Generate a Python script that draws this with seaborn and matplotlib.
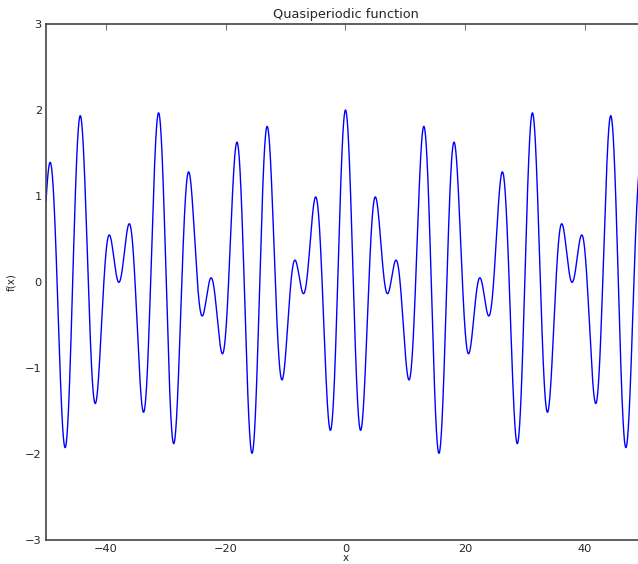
import numpy as np
import pandas as pd
import matplotlib
matplotlib.use("Agg")
import matplotlib.pyplot as plt
import seaborn as sns

# f(x) = sum of cosines with incommensurate frequencies
frequencies = [1.0, np.sqrt(2)]
amplitudes = [1.0, 1.0]
x_range = [-50, 50]

x = np.linspace(x_range[0], x_range[1], 4000)
y = sum(a * np.cos(w * x) for a, w in zip(amplitudes, frequencies))
df = pd.DataFrame({"x": x, "f(x)": y})

sns.set_style("white")
plt.rcParams["font.family"] = ["DejaVu Sans"]

fig = plt.figure(figsize=(6.38, 5.64), dpi=100)
ax = fig.add_axes([46 / 638, 24 / 564, 599 / 638, 516 / 564])

sns.lineplot(data=df, x="x", y="f(x)", ax=ax, color="blue", linewidth=1.0)

ax.set_xlim(-50, 50)
ax.set_ylim(-3, 3)
ax.set_xticks([-40, -20, 0, 20, 40])
ax.set_yticks([-3, -2, -1, 0, 1, 2, 3])
ax.set_xticklabels(["\u221240", "\u221220", "0", "20", "40"])
ax.set_yticklabels(["\u22123", "\u22122", "\u22121", "0", "1", "2", "3"])
ax.tick_params(direction="in", length=4, width=0.6, top=True, right=True,
               labelsize=8.2, color="#555555", pad=3)
for s in ax.spines.values():
    s.set_color("#444444")
    s.set_linewidth(1.2)

ax.set_title("Quasiperiodic function", fontsize=9.3, pad=4)
ax.set_xlabel("x", fontsize=7.5, labelpad=-1)
ax.set_ylabel("f(x)", fontsize=7.5, labelpad=6)

fig.savefig("out.png", dpi=100)
